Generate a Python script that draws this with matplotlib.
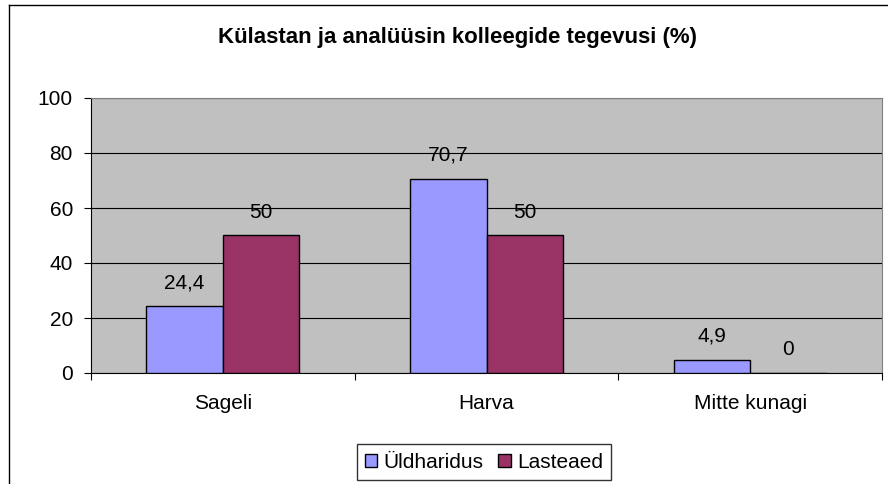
import numpy as np
import matplotlib.pyplot as plt
from matplotlib.lines import Line2D
from matplotlib.patches import Patch

categories = ['Sageli', 'Harva', 'Mitte kunagi']
series_names = ['Üldharidus', 'Lasteaed']
uldharidus = [24.4, 70.7, 4.9]
lasteaed = [50, 50, 0]
yticks = [0, 20, 40, 60, 80, 100]

colors = ['#9999FF', '#993366']

plt.rcParams['font.family'] = ['Liberation Sans', 'DejaVu Sans']
fs = 15

W, H = 888, 484
fig = plt.figure(figsize=(W / 100, H / 100), dpi=100)

# chart frame (only left and top edges are visible in the image)
fig.add_artist(Line2D([9 / W, 9 / W], [0, 1 - 5 / H], color='black', lw=1))
fig.add_artist(Line2D([9 / W, 1], [1 - 5 / H, 1 - 5 / H], color='black', lw=1))

ax = fig.add_axes([91 / W, (H - 373) / H, 791 / W, 275 / H])
ax.set_facecolor('#C0C0C0')

x = np.arange(len(categories))
bw = 0.29
for i, (vals, name) in enumerate(zip([uldharidus, lasteaed], series_names)):
    pos = x + (i - 0.5) * bw
    ax.bar(pos, vals, bw, color=colors[i], edgecolor='black', linewidth=1, zorder=3, label=name)
    for p, v in zip(pos, vals):
        txt = f'{v:g}'.replace('.', ',')
        ax.annotate(txt, (p, v), xytext=(0, 10), textcoords='offset points',
                    ha='center', va='bottom', fontsize=fs)

ax.set_xlim(-0.5, 2.5)
ax.set_ylim(0, 100)
ax.set_yticks(yticks)
ax.yaxis.grid(True, color='black', lw=0.8, zorder=0)
ax.set_axisbelow(True)

ax.set_xticks([-0.5, 0.5, 1.5, 2.5])
ax.set_xticklabels([])
ax.set_xticks(x, minor=True)
ax.set_xticklabels(categories, minor=True, fontsize=fs)
ax.tick_params(axis='x', which='minor', length=0, pad=15)
ax.tick_params(axis='x', which='major', length=5, direction='out', color='black')
ax.tick_params(axis='y', length=5, direction='out', labelsize=fs, pad=8)

for s in ['top', 'right']:
    ax.spines[s].set_color('#808080')
for s in ['left', 'bottom']:
    ax.spines[s].set_color('black')

fig.text(457 / W, 1 - 38 / H, 'Külastan ja analüüsin kolleegide tegevusi (%)',
         ha='center', va='center', fontsize=16, fontweight='bold')

handles = [Patch(facecolor=c, edgecolor='black', label=n) for c, n in zip(colors, series_names)]
leg = fig.legend(handles=handles, loc='center', bbox_to_anchor=(484 / W, (H - 462) / H),
                 ncol=2, frameon=True, fancybox=False, fontsize=fs,
                 handlelength=0.6, handleheight=0.6, handletextpad=0.3,
                 columnspacing=0.7, borderpad=0.4, borderaxespad=0)
leg.get_frame().set_edgecolor('black')
leg.get_frame().set_linewidth(1)

fig.savefig('out.png', dpi=100)
